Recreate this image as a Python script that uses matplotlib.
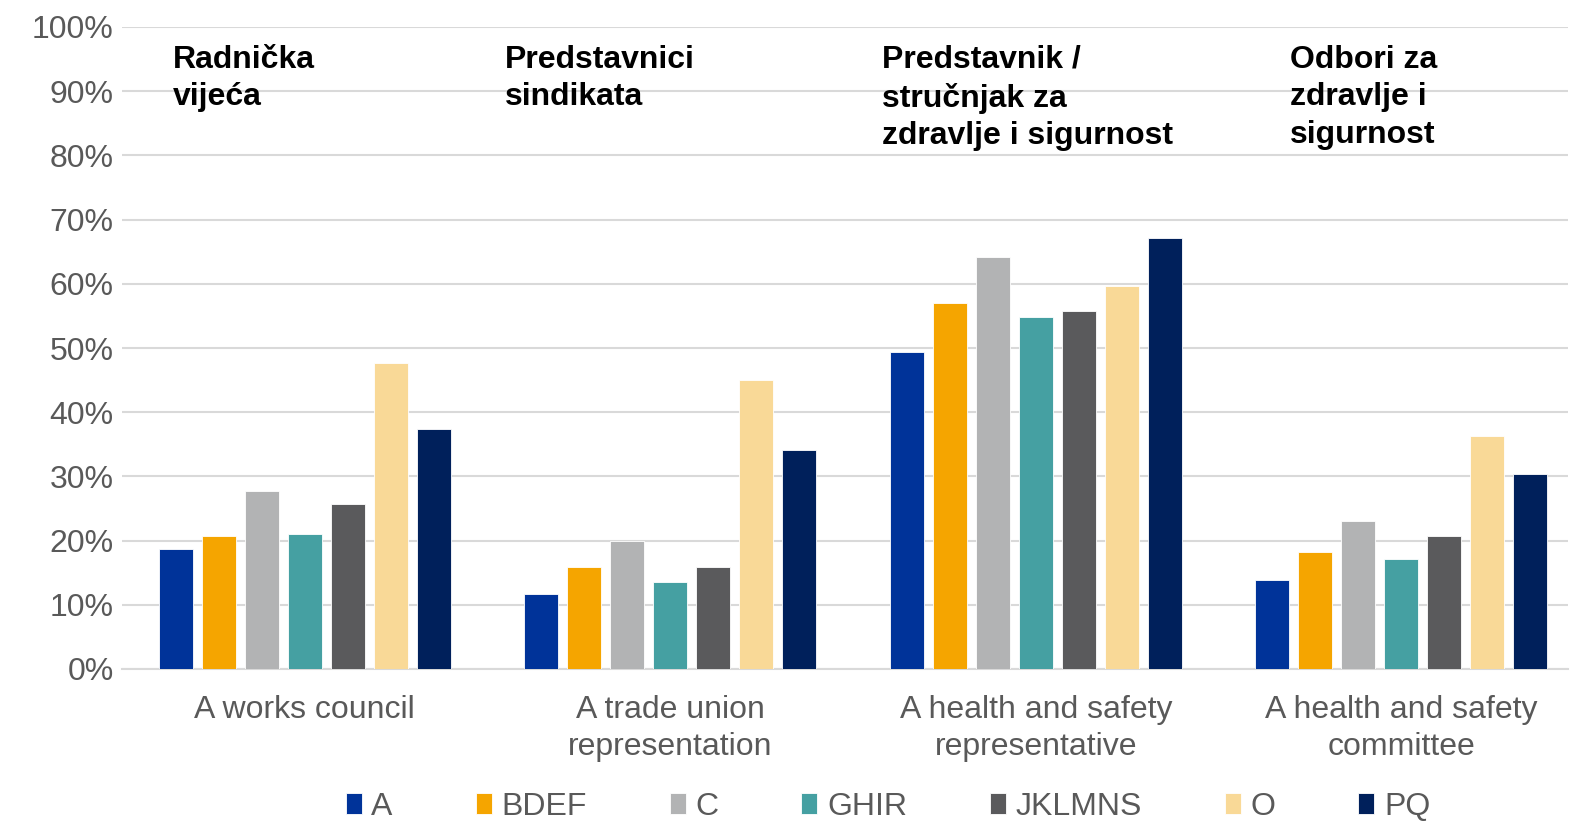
import matplotlib.pyplot as plt
import numpy as np

categories = ['A works council', 'A trade union\nrepresentation',
              'A health and safety\nrepresentative', 'A health and safety\ncommittee']
titles = ['Radnička\nvijeća', 'Predstavnici\nsindikata',
          'Predstavnik /\nstručnjak za\nzdravlje i sigurnost', 'Odbori za\nzdravlje i\nsigurnost']
series = ['A', 'BDEF', 'C', 'GHIR', 'JKLMNS', 'O', 'PQ']
values = {
    'A':      [18.7, 11.7, 49.4, 13.9],
    'BDEF':   [20.7, 15.9, 57.0, 18.2],
    'C':      [27.7, 19.9, 64.2, 23.1],
    'GHIR':   [21.0, 13.6, 54.8, 17.1],
    'JKLMNS': [25.7, 15.9, 55.8, 20.7],
    'O':      [47.7, 45.0, 59.7, 36.3],
    'PQ':     [37.4, 34.1, 67.1, 30.4],
}
colors = ['#003399', '#F5A500', '#B2B3B4', '#45A0A2', '#5A5A5C', '#F9D997', '#00205B']

plt.rcParams['font.family'] = ['Liberation Sans', 'DejaVu Sans']
W, H = 1571, 826
fig = plt.figure(figsize=(W / 100, H / 100), dpi=100)
ax = fig.add_axes([122 / W, 1 - 669 / H, (1568 - 122) / W, (669 - 27) / H])

x = np.arange(len(categories))
step = 43 / 365.5
width = 34 / 365.5
for i, s in enumerate(series):
    ax.bar(x + (i - 3) * step, values[s], width, color=colors[i], label=s,
           edgecolor='white', linewidth=0.6, zorder=3)

ax.set_ylim(0, 100)
ax.set_xlim(-0.5, -0.5 + 1446 / 365.5)
ax.set_yticks(np.arange(0, 101, 10))
ax.set_yticklabels([f'{v}%' for v in range(0, 101, 10)])
ax.yaxis.grid(True, color='#D9D9D9', linewidth=1.5, zorder=0)
ax.set_xticks(x)
ax.set_xticklabels(categories, linespacing=1.3)
ax.tick_params(axis='both', length=0, labelsize=23, labelcolor='#595959')
ax.tick_params(axis='x', pad=19)
ax.tick_params(axis='y', pad=6)
for sp in ['top', 'right', 'left']:
    ax.spines[sp].set_visible(False)
ax.spines['bottom'].set_color('#D9D9D9')
ax.spines['bottom'].set_linewidth(1.5)

title_x = [173, 505, 882, 1290]
for tx, t in zip(title_x, titles):
    fig.text(tx / W, 1 - 45 / H, t, fontsize=23, fontweight='bold', va='top',
             ha='left', linespacing=1.32)

fig.legend(loc='center', bbox_to_anchor=(888 / W, 1 - 807 / H), ncol=7, frameon=False,
           fontsize=23, labelcolor='#595959', handlelength=0.5, handleheight=0.65,
           handletextpad=0.3, columnspacing=2.6, borderpad=0)

fig.savefig('out.png', dpi=100)
